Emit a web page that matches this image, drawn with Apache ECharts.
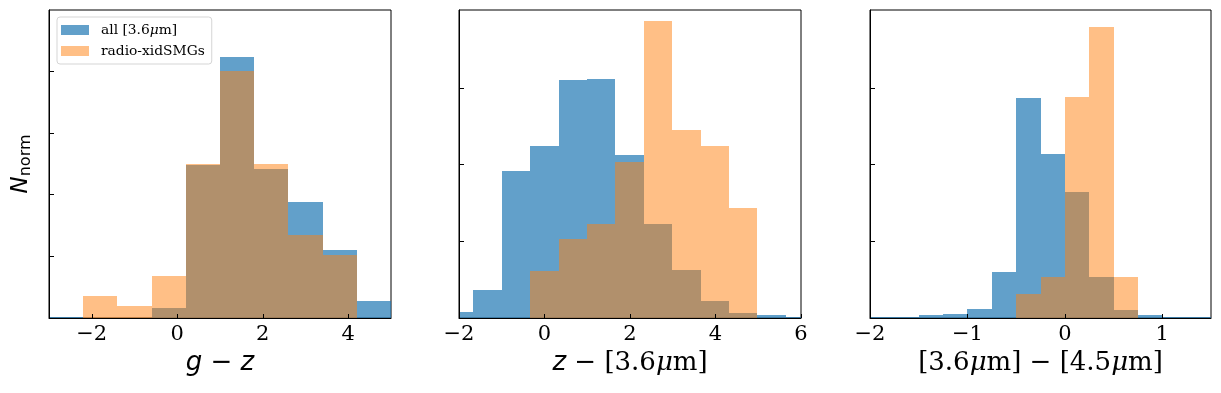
<!DOCTYPE html>
<html>
<head>
<meta charset="utf-8">
<script src="https://cdn.jsdelivr.net/npm/echarts@6/dist/echarts.min.js"></script>
<style>
html,body{margin:0;padding:0;background:#fff;}
#chart{width:1221px;height:393px;}
</style>
</head>
<body>
<div id="chart"></div>
<script>
// ---------- data (bin edges and normalised heights) ----------
const seriesNames = ['all [3.6μm]', 'radio-xidSMGs'];

// panel 1: g - z
const edges1 = [-3.0, -2.2, -1.4, -0.6, 0.2, 1.0, 1.8, 2.6, 3.4, 4.2, 5.0];
const all1   = [0.0016, 0, 0, 0.0168, 0.2476, 0.4238, 0.2410, 0.1886, 0.1108, 0.0281];
const smg1   = [0, 0.0351, 0.0189, 0.0676, 0.2503, 0.4010, 0.2503, 0.1350, 0.1016, 0];

// panel 2: z - [3.6um]
const edges2 = [-2.33, -1.67, -1.0, -0.34, 0.33, 0.99, 1.66, 2.32, 2.99, 3.65, 4.32, 4.98, 5.65, 6.31];
const all2   = [0.0078, 0.0370, 0.1922, 0.2248, 0.3109, 0.3122, 0.2130, 0.1230, 0.0630, 0.0226, 0.0065, 0.0035, 0.0013];
const smg2   = [0, 0, 0, 0.0617, 0.1026, 0.1230, 0.2039, 0.3878, 0.2457, 0.2248, 0.1439, 0, 0];

// panel 3: [3.6um] - [4.5um]
const edges3 = [-2.0, -1.75, -1.5, -1.25, -1.0, -0.75, -0.5, -0.25, 0.0, 0.25, 0.5, 0.75, 1.0, 1.25, 1.5];
const all3   = [0.0013, 0.0013, 0.0035, 0.0048, 0.0122, 0.0596, 0.2874, 0.2143, 0.1639, 0.0530, 0.0109, 0.0035, 0.0013, 0.0013];
const smg3   = [0, 0, 0, 0, 0, 0, 0.0317, 0.0539, 0.2887, 0.3800, 0.0539, 0, 0, 0];

// axis ranges and tick labels
const xRanges = [[-3, 5], [-2, 6], [-2, 1.5]];
const xTicks  = [[-2, 0, 2, 4], [-2, 0, 2, 4, 6], [-2, -1, 0, 1]];
const yMax    = [0.4996, 0.4016, 0.4016];
const yTicks  = [[0.1, 0.2, 0.3, 0.4], [0.1, 0.2, 0.3], [0.1, 0.2, 0.3]];

// ---------- build ----------
const BLUE = 'rgba(31,119,180,0.7)';
const ORANGE = 'rgba(255,127,14,0.5)';
const SERIF = 'DejaVu Serif';
const SANS = 'DejaVu Sans';

function toBins(edges, h) {
  const out = [];
  for (let i = 0; i < h.length; i++) if (h[i] > 0) out.push([edges[i], edges[i + 1], h[i]]);
  return out;
}
function renderItem(params, api) {
  const p0 = api.coord([api.value(0), api.value(2)]);
  const p1 = api.coord([api.value(1), 0]);
  const x0 = Math.round(p0[0]), x1 = Math.round(p1[0]);
  const y0 = Math.round(p0[1]), y1 = Math.round(p1[1]);
  return {
    type: 'rect',
    shape: { x: x0, y: y0, width: x1 - x0, height: Math.max(1, y1 - y0) },
    style: { fill: api.visual('color') }
  };
}
const fmtMinus = v => (v < 0 ? '\u2212' + Math.abs(v) : String(v));

const grids = [
  { left: 49, top: 10, width: 342, height: 308 },
  { left: 459, top: 10, width: 342, height: 308 },
  { left: 870, top: 10, width: 341, height: 308 }
].map(g => Object.assign({ show: true, borderColor: '#000', borderWidth: 1, backgroundColor: 'transparent' }, g));

const nameRich = {
  i: { fontFamily: SANS, fontStyle: 'italic', fontSize: 26, color: '#000' },
  m: { fontFamily: SANS, fontSize: 26, color: '#000' },
  r: { fontFamily: SERIF, fontSize: 26, color: '#000' },
  mu: { fontFamily: SERIF, fontStyle: 'italic', fontSize: 26, color: '#000' }
};
const xNames = [
  '{i|g}{m| \u2212 }{i|z}',
  '{i|z}{r| \u2212 [3.6}{mu|μ}{r|m]}',
  '{r|[3.6}{mu|μ}{r|m] \u2212 [4.5}{mu|μ}{r|m]}'
];

const xAxes = xRanges.map((r, k) => ({
  type: 'value', gridIndex: k, min: r[0], max: r[1], z: 10,
  name: xNames[k], nameLocation: 'middle', nameGap: 32,
  nameTextStyle: { rich: nameRich },
  axisLine: { show: true, onZero: false, lineStyle: { color: '#000', width: 1 } },
  axisTick: { show: true, inside: true, length: 4, lineStyle: { color: '#000', width: 1 }, customValues: xTicks[k] },
  axisLabel: { show: true, margin: 6, fontFamily: SERIF, fontSize: 21, color: '#000', formatter: fmtMinus, customValues: xTicks[k] },
  splitLine: { show: false }
}));

const yAxes = yMax.map((m, k) => {
  const ax = {
    type: 'value', gridIndex: k, min: 0, max: m, z: 10,
    axisLine: { show: true, onZero: false, lineStyle: { color: '#000', width: 1 } },
    axisTick: { show: true, inside: true, length: 5, lineStyle: { color: '#000', width: 1 }, customValues: yTicks[k] },
    axisLabel: { show: false },
    splitLine: { show: false }
  };
  if (k === 0) {
    ax.name = '{n|N}{s|norm}';
    ax.nameLocation = 'middle';
    ax.nameRotate = 90;
    ax.nameGap = 15;
    ax.nameTextStyle = {
      rich: {
        n: { fontFamily: SANS, fontStyle: 'italic', fontSize: 23, lineHeight: 24, verticalAlign: 'top', color: '#000' },
        s: { fontFamily: SANS, fontSize: 16, lineHeight: 16, verticalAlign: 'bottom', color: '#000' }
      },
      lineHeight: 30
    };
  }
  return ax;
});

const panels = [[all1, smg1, edges1], [all2, smg2, edges2], [all3, smg3, edges3]];
const series = [];
panels.forEach((p, k) => {
  series.push({
    type: 'custom', name: seriesNames[0], xAxisIndex: k, yAxisIndex: k, clip: true,
    itemStyle: { color: BLUE }, renderItem, encode: { x: [0, 1], y: 2 },
    data: toBins(p[2], p[0]), silent: true, z: 2
  });
  series.push({
    type: 'custom', name: seriesNames[1], xAxisIndex: k, yAxisIndex: k, clip: true,
    itemStyle: { color: ORANGE }, renderItem, encode: { x: [0, 1], y: 2 },
    data: toBins(p[2], p[1]), silent: true, z: 3
  });
});

const chart = echarts.init(document.getElementById('chart'), null, { renderer: 'canvas' });
chart.setOption({
  animation: false,
  backgroundColor: '#fff',
  grid: grids,
  xAxis: xAxes,
  yAxis: yAxes,
  legend: {
    left: 57, top: 17, orient: 'vertical',
    data: seriesNames, icon: 'rect', itemWidth: 28, itemHeight: 10, itemGap: 7,
    padding: [6, 7, 6, 4],
    backgroundColor: '#fff', borderColor: '#d5d5d5', borderWidth: 1, borderRadius: 3,
    selectedMode: false,
    formatter: name => name === seriesNames[0]
      ? '{sp|}{t|all [3.6}{mu|μ}{t|m]}'
      : '{sp|}{t|radio-xidSMGs}',
    textStyle: {
      rich: {
        sp: { width: 7 },
        t: { fontFamily: SERIF, fontSize: 13.8, lineHeight: 15, color: '#000' },
        mu: { fontFamily: SERIF, fontStyle: 'italic', fontSize: 13.8, lineHeight: 15, color: '#000' }
      }
    }
  },
  series
});
</script>
</body>
</html>
